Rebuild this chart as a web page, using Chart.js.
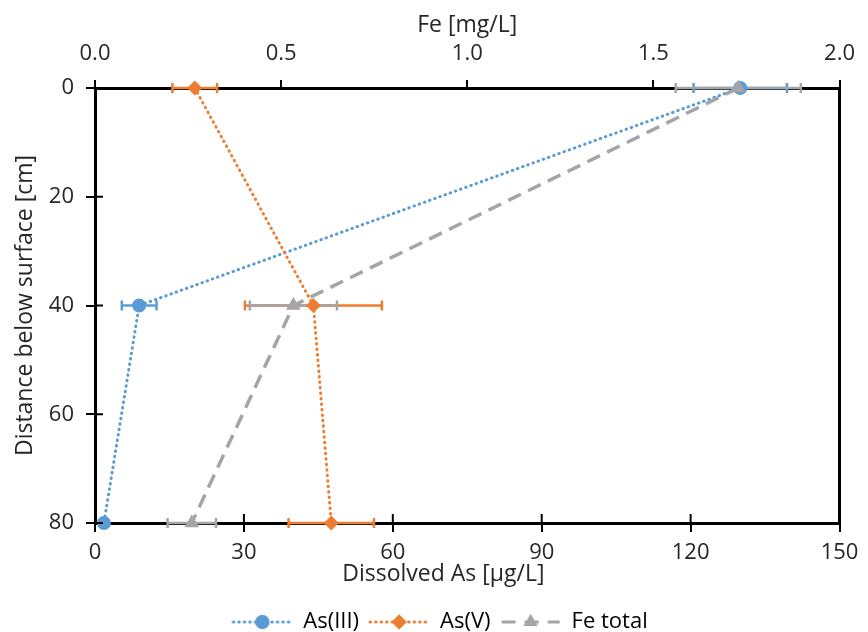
<!DOCTYPE html>
<html>
<head>
<meta charset="utf-8">
<script src="https://cdn.jsdelivr.net/npm/chart.js@4.4.0/dist/chart.umd.min.js"></script>
<style>
  html, body { margin: 0; padding: 0; background: #fff; }
  #wrap { width: 868px; height: 632px; }
</style>
</head>
<body>
<div id="wrap"><canvas id="chart" width="868" height="632"></canvas></div>
<script>
// --- Data ---
const depths = [0, 40, 80];              // cm below surface
const as3 = [130, 8.9, 1.8];             // As(III) µg/L
const as3Err = [9.4, 3.5, 0.4];
const as5 = [20.1, 44, 47.6];            // As(V) µg/L
const as5Err = [4.5, 13.8, 8.6];
const feTotal = [1.728, 0.533, 0.26];    // Fe mg/L (top axis)
const feErr = [0.168, 0.117, 0.065];

const asTicks = [0, 30, 60, 90, 120, 150];
const feTicks = [0, 0.5, 1.0, 1.5, 2.0];
const depthTicks = [0, 20, 40, 60, 80];

const BLUE = '#5b9bd5';
const ORANGE = '#ed7d31';
const GRAY = '#a5a5a5';
const TEXT = '#262626';

Chart.defaults.font.family = "'Open Sans', sans-serif";
Chart.defaults.font.size = 22;
Chart.defaults.color = TEXT;

const pts = (xs) => xs.map((v, i) => ({ x: v, y: depths[i] }));

// small canvas icons for the legend (line + marker)
function legendIcon(color, dash, cap, style, r) {
  const c = document.createElement('canvas');
  c.width = 62; c.height = 20;
  const g = c.getContext('2d');
  g.strokeStyle = color;
  g.lineWidth = 3;
  g.lineCap = cap;
  g.setLineDash(dash);
  g.beginPath();
  g.moveTo(2, 10); g.lineTo(60, 10);
  g.stroke();
  g.setLineDash([]);
  g.fillStyle = color;
  Chart.helpers.drawPoint(g, { pointStyle: style, radius: r, borderWidth: 0 }, 31, 10);
  g.fill();
  return c;
}

// horizontal error bars, placed through the dataset's own x scale
// (drawn before the datasets so the markers sit on top)
const errorBars = {
  id: 'errorBars',
  beforeDatasetsDraw(chart) {
    const ctx = chart.ctx;
    const y = chart.scales.y;
    chart.data.datasets.forEach((ds) => {
      if (!ds.errors) return;
      const xs = chart.scales[ds.xAxisID];
      ctx.save();
      ctx.strokeStyle = ds.borderColor;
      ctx.lineWidth = 2.5;
      ds.data.forEach((p, i) => {
        const e = ds.errors[i];
        if (!e) return;
        const py = y.getPixelForValue(p.y);
        const x1 = xs.getPixelForValue(p.x - e);
        const x2 = xs.getPixelForValue(p.x + e);
        ctx.beginPath();
        ctx.moveTo(x1, py); ctx.lineTo(x2, py);
        ctx.moveTo(x1, py - 5); ctx.lineTo(x1, py + 5);
        ctx.moveTo(x2, py - 5); ctx.lineTo(x2, py + 5);
        ctx.stroke();
      });
      ctx.restore();
    });
  }
};

// Excel style tick marks that cross the left and bottom axes
const crossTicks = {
  id: 'crossTicks',
  afterDraw(chart) {
    const ctx = chart.ctx;
    const { x, y } = chart.scales;
    const a = chart.chartArea;
    ctx.save();
    ctx.strokeStyle = '#000';
    ctx.lineWidth = 2;
    ctx.beginPath();
    x.ticks.forEach(t => {
      const px = x.getPixelForValue(t.value);
      ctx.moveTo(px, a.bottom); ctx.lineTo(px, a.bottom - 9);
    });
    y.ticks.forEach(t => {
      const py = y.getPixelForValue(t.value);
      ctx.moveTo(a.left, py); ctx.lineTo(a.left + 8, py);
    });
    ctx.stroke();
    ctx.restore();
  }
};

const icons = [
  legendIcon(BLUE, [0.5, 5], 'round', 'circle', 7),
  legendIcon(ORANGE, [0.5, 5], 'round', 'rectRot', 7.5),
  legendIcon(GRAY, [14, 9], 'butt', 'triangle', 8)
];

new Chart(document.getElementById('chart'), {
  type: 'scatter',
  data: {
    datasets: [
      {
        label: 'As(III)', data: pts(as3), errors: as3Err,
        xAxisID: 'x', yAxisID: 'y', order: 3, clip: false,
        showLine: true, borderColor: BLUE, backgroundColor: BLUE,
        borderWidth: 3, borderDash: [0.5, 5], borderCapStyle: 'round',
        pointStyle: 'circle', pointRadius: 7, pointBorderWidth: 0
      },
      {
        label: 'As(V)', data: pts(as5), errors: as5Err,
        xAxisID: 'x', yAxisID: 'y', order: 2, clip: false,
        showLine: true, borderColor: ORANGE, backgroundColor: ORANGE,
        borderWidth: 3, borderDash: [0.5, 5], borderCapStyle: 'round',
        pointStyle: 'rectRot', pointRadius: 7.5, pointBorderWidth: 0
      },
      {
        label: 'Fe total', data: pts(feTotal), errors: feErr,
        xAxisID: 'x2', yAxisID: 'y', order: 1, clip: false,
        showLine: true, borderColor: GRAY, backgroundColor: GRAY,
        borderWidth: 3.5, borderDash: [14, 8],
        pointStyle: 'triangle', pointRadius: 8.5, pointBorderWidth: 0
      }
    ]
  },
  options: {
    responsive: false,
    animation: false,
    layout: { padding: { left: 12, right: 0, top: 12, bottom: -11 } },
    plugins: {
      tooltip: { enabled: false },
      legend: {
        position: 'bottom',
        labels: {
          usePointStyle: true,
          pointStyleWidth: 60,
          padding: 10,
          color: TEXT,
          font: { size: 22 },
          generateLabels: (chart) => chart.data.datasets.map((ds, i) => ({
            text: ds.label, pointStyle: icons[i], datasetIndex: i,
            fillStyle: ds.borderColor, strokeStyle: ds.borderColor, lineWidth: 0, hidden: false
          }))
        }
      }
    },
    scales: {
      x: {
        type: 'linear', position: 'bottom', min: 0, max: 150,
        afterBuildTicks: (s) => { s.ticks = asTicks.map(v => ({ value: v })); },
        afterFit: (s) => { s.height = 78; },
        ticks: { padding: 8, color: TEXT },
        grid: { drawOnChartArea: false, color: '#000', lineWidth: 2, tickLength: 9 },
        border: { color: '#000', width: 3 },
        title: { display: true, text: 'Dissolved As [µg/L]        ', color: TEXT, font: { size: 23 }, padding: { top: 0, bottom: 13 } }
      },
      x2: {
        type: 'linear', position: 'top', min: 0, max: 2,
        afterBuildTicks: (s) => { s.ticks = feTicks.map(v => ({ value: v })); },
        afterFit: (s) => { s.height = 76; },
        ticks: { padding: 13, color: TEXT, callback: (v) => v.toFixed(1) },
        grid: { drawOnChartArea: false, color: '#000', lineWidth: 2, tickLength: 8 },
        border: { color: '#000', width: 3 },
        title: { display: true, text: 'Fe [mg/L]', color: TEXT, font: { size: 23 }, padding: 0 }
      },
      y: {
        type: 'linear', position: 'left', min: 0, max: 80, reverse: true,
        afterBuildTicks: (s) => { s.ticks = depthTicks.map(v => ({ value: v })); },
        afterFit: (s) => { s.width = 83; },
        ticks: { padding: 12, color: TEXT },
        grid: { drawOnChartArea: false, color: '#000', lineWidth: 2, tickLength: 9 },
        border: { color: '#000', width: 3 },
        title: { display: true, text: 'Distance below surface [cm]', color: TEXT, font: { size: 23 }, padding: 0 }
      },
      yR: {
        type: 'linear', position: 'right', min: 0, max: 80, reverse: true,
        afterFit: (s) => { s.width = 23; },
        ticks: { display: false },
        grid: { display: false },
        border: { color: '#000', width: 3 }
      }
    }
  },
  plugins: [errorBars, crossTicks]
});
</script>
</body>
</html>
